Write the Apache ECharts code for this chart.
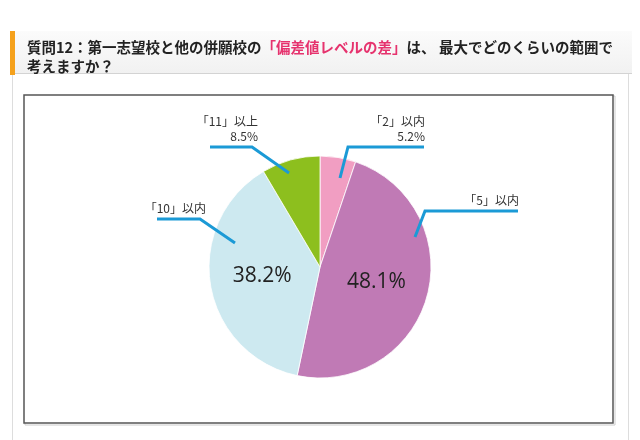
<!DOCTYPE html>
<html>
<head>
<meta charset="utf-8">
<script src="https://cdn.jsdelivr.net/npm/echarts@6/dist/echarts.min.js"></script>
<style>
html,body{margin:0;padding:0;background:#fff;}
#chart{width:640px;height:440px;}
</style>
</head>
<body>
<div id="chart"></div>
<script>
// ---- data ----
const categories = ['「2」以内', '「5」以内', '「10」以内', '「11」以上'];
const values = [5.2, 48.1, 38.2, 8.5];
const titleLine1a = '質問12：第一志望校と他の併願校の';
const titleLine1b = '「偏差値レベルの差」';
const titleLine1c = 'は、 最大でどのくらいの範囲で';
const titleLine2 = '考えますか？';

// ---- style ----
const colors = ['#f19ec2', '#c07ab5', '#cde9f0', '#8dbf1e'];
const CX = 320, CY = 267, R = 111;
// leader lines: [startDx, startDy, bendDx, bendDy, endDx] relative to pie centre
const guides = [
  [20, -89, 28, -120, 104],
  [95, -30, 105, -56, 198],
  [-85, -24, -120, -48, -163],
  [-31, -94, -68, -120, -110]
];
const showPctOutside = [true, false, false, true];
const showPctInside = [false, true, true, false];

const chart = echarts.init(document.getElementById('chart'), null, {renderer: 'canvas'});

const insideData = categories.map((c, i) => ({
  name: c, value: values[i],
  itemStyle: {color: colors[i]},
  label: {show: showPctInside[i]}
}));
const outsideData = categories.map((c, i) => ({name: c, value: values[i]}));

chart.setOption({
  animation: false,
  title: {
    left: 22, top: 33,
    text: '{a|' + titleLine1a + '}{r|' + titleLine1b + '}{a|' + titleLine1c + '}\n{a|' + titleLine2 + '}',
    textStyle: {
      rich: {
        a: {fontFamily: 'Noto Sans CJK JP', fontWeight: 'bold', fontSize: 14.5, color: '#222', lineHeight: 19},
        r: {fontFamily: 'Noto Sans CJK JP', fontWeight: 'bold', fontSize: 14.5, color: '#e6336e', lineHeight: 19}
      }
    }
  },
  graphic: [
    {type: 'rect', z: -10, shape: {x: 10, y: 31, width: 622, height: 43},
      style: {fill: new echarts.graphic.LinearGradient(0, 0, 0, 1, [{offset: 0, color: '#fbfbfb'}, {offset: 1, color: '#f1f1f1'}])}},
    {type: 'line', z: -9, shape: {x1: 10, y1: 73.5, x2: 632, y2: 73.5}, style: {stroke: '#d3d3d3', lineWidth: 1}},
    {type: 'rect', z: -8, shape: {x: 10, y: 31, width: 5, height: 44}, style: {fill: '#f5a11c'}},
    {type: 'line', z: -9, shape: {x1: 12.5, y1: 74, x2: 12.5, y2: 440}, style: {stroke: '#dddddd', lineWidth: 1}},
    {type: 'line', z: -9, shape: {x1: 628.5, y1: 74, x2: 628.5, y2: 440}, style: {stroke: '#dddddd', lineWidth: 1}},
    {type: 'rect', z: -9, shape: {x: 25, y: 96, width: 590, height: 329}, style: {fill: 'none', stroke: '#cccccc', lineWidth: 1}},
    {type: 'rect', z: -9, shape: {x: 24, y: 95, width: 589, height: 328}, style: {fill: '#fff', stroke: '#555555', lineWidth: 1.5}}
  ],
  series: [
    {
      type: 'pie',
      center: [CX, CY], radius: R,
      startAngle: 90, clockwise: true,
      silent: true,
      itemStyle: {borderColor: '#ffffff', borderWidth: 0.8},
      label: {
        position: 'inside',
        formatter: p => p.value.toFixed(1) + '%',
        fontFamily: 'Open Sans',
        fontSize: 21,
        color: '#222'
      },
      labelLine: {show: false},
      data: insideData
    },
    {
      type: 'pie',
      center: [CX, CY], radius: R,
      startAngle: 90, clockwise: true,
      silent: true,
      z: 3,
      itemStyle: {color: 'rgba(0,0,0,0)', borderWidth: 0},
      label: {
        show: true,
        position: 'outside',
        formatter: p => showPctOutside[p.dataIndex] ? p.name + '\n' + p.value.toFixed(1) + '%' : p.name,
        fontFamily: 'Noto Sans CJK JP',
        fontSize: 12,
        lineHeight: 15,
        color: '#333',
        align: 'right'
      },
      labelLine: {show: true, length: 10, length2: 10, lineStyle: {color: '#1b9ad6', width: 3}},
      labelLayout: function (p) {
        const g = guides[p.dataIndex];
        const sx = CX + g[0], sy = CY + g[1];
        const bx = CX + g[2], by = CY + g[3];
        const ex = CX + g[4];
        const right = g[4] > 0;
        return {
          x: right ? ex + 1 : bx + 6,
          y: by - 3,
          align: 'right',
          verticalAlign: 'bottom',
          labelLinePoints: [[sx, sy], [bx, by], [ex, by]]
        };
      },
      data: outsideData
    }
  ]
});
</script>
</body>
</html>
